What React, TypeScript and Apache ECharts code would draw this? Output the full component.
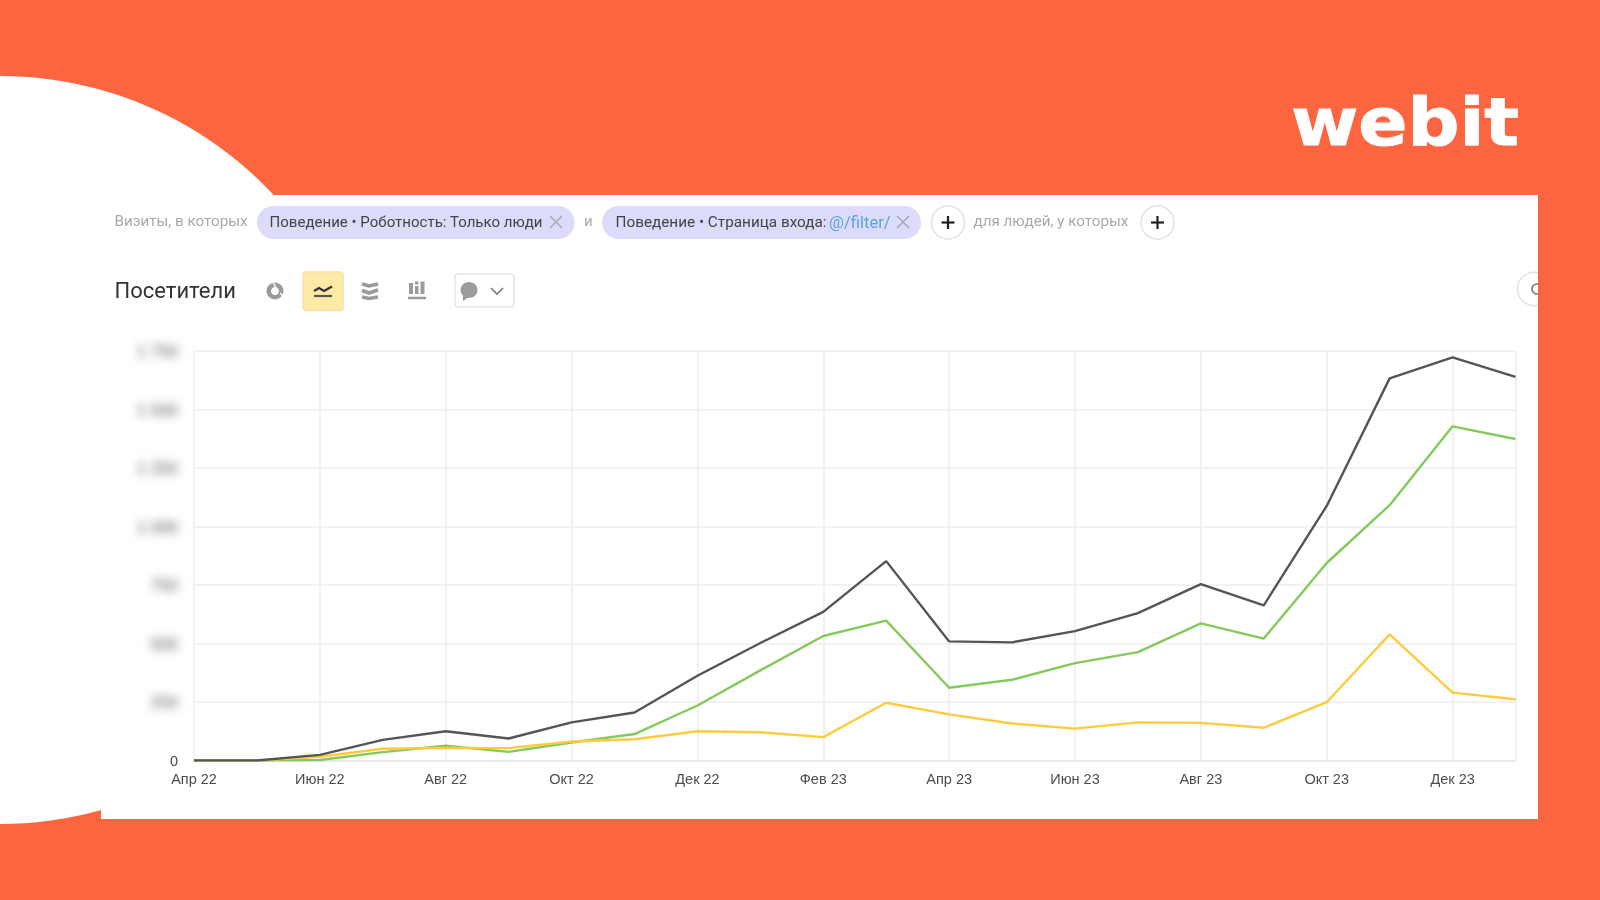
import React, { useEffect, useRef } from "react";
import * as echarts from "echarts";

const months = ["Апр 22","Май 22","Июн 22","Июл 22","Авг 22","Сен 22","Окт 22","Ноя 22","Дек 22","Янв 23","Фев 23","Мар 23","Апр 23","Май 23","Июн 23","Июл 23","Авг 23","Сен 23","Окт 23","Ноя 23","Дек 23","Янв 24"];
const darkValues = [0,0,24,88,125,94,163,205,362,502,635,852,509,505,553,630,754,663,1088,1633,1723,1639];
const greenValues = [0,0,2,36,63,37,77,113,235,385,532,598,311,345,416,463,586,521,844,1091,1428,1374];
const yellowValues = [0,0,16,50,54,53,81,91,125,121,100,247,197,158,136,163,161,140,249,539,290,262];

const ORANGE = "#FD6440";
const UI_FONT = "Roboto";
const GREY = "#a9a9a9";
const ICON = "#9b9b9b";

const txt = (text: string, x: number, y: number, fontSize: number, fill: string, extra: any = {}) => ({
  type: "text", z: 5,
  style: { text, x, y, fontSize, fill, fontFamily: UI_FONT, textVerticalAlign: "middle", ...extra },
});
const ln = (x1: number, y1: number, x2: number, y2: number, stroke: string, lineWidth = 2) => ({
  type: "line", z: 5, shape: { x1, y1, x2, y2 }, style: { stroke, lineWidth },
});
const pl = (points: number[][], stroke: string, lineWidth = 2.5) => ({
  type: "polyline", z: 5, shape: { points }, style: { stroke, lineWidth, fill: "none" },
});
const box = (x: number, y: number, width: number, height: number, fill: string, r = 0, stroke?: string, z = 4) => ({
  type: "rect", z, shape: { x, y, width, height, r }, style: { fill, stroke, lineWidth: stroke ? 1.5 : 0 },
});
const plus = (cx: number, cy: number) => [
  { type: "circle", z: 4, shape: { cx, cy, r: 16.5 }, style: { fill: "#fff", stroke: "#e3e3e3", lineWidth: 1.5 } },
  ln(cx - 6.5, cy, cx + 6.5, cy, "#222", 2.2),
  ln(cx, cy - 6.5, cx, cy + 6.5, "#222", 2.2),
];
const cross = (cx: number, cy: number) => [
  ln(cx - 6, cy - 6, cx + 6, cy + 6, "#a3a3ad", 1.2),
  ln(cx - 6, cy + 6, cx + 6, cy - 6, "#a3a3ad", 1.2),
];

const graphicElements: any[] = [
  { type: "circle", z: -10, shape: { cx: 0, cy: 450, r: 374 }, style: { fill: "#fff" } },
  box(101, 195, 1437, 624, "#fff", 0, undefined, -9),

  txt("Визиты, в которых", 114.5, 221, 15.2, GREY),
  box(257, 206, 317.5, 33, "#DCDBFB", 16.5),
  txt("Поведение • Роботность: Только люди", 269.5, 222, 15.05, "#444"),
  ...cross(556, 222),
  txt("и", 584, 221, 15, GREY),
  box(602, 206, 319, 33, "#DCDBFB", 16.5),
  txt("Поведение • Страница входа:", 615.5, 222, 15.3, "#444"),
  txt("@/filter/", 829, 222, 16.6, "#5AA6DC"),
  ...cross(903, 222),
  ...plus(948, 222.5),
  txt("для людей, у которых", 973.5, 221, 15.2, GREY),
  ...plus(1157.5, 222.5),

  txt("Посетители", 114.5, 290, 22, "#333"),

  { type: "ring", z: 5, shape: { cx: 275, cy: 291, r: 8.5, r0: 4 }, style: { fill: ICON } },
  ln(273, 282, 276, 288, "#fff", 1.4),
  ln(280, 293, 283, 296, "#fff", 1.4),
  box(303, 272, 40, 38.5, "#FFE9A6", 3, "#F3E2AE"),
  pl([[314, 291], [319, 288], [324, 291], [332, 286.5]], "#333", 2.2),
  ln(314, 296, 332, 296, "#555", 2.2),
  pl([[362, 284], [369, 286], [378, 284]], ICON, 3.6),
  pl([[362, 290.5], [369, 293], [378, 290]], ICON, 3.6),
  pl([[362, 297], [369, 298.5], [378, 297]], ICON, 3.6),
  box(409, 283, 4, 11, ICON, 0, undefined, 5),
  box(415, 286, 3.5, 8, ICON, 0, undefined, 5),
  box(415, 281.5, 3.5, 3, ICON, 0, undefined, 5),
  box(420.5, 281.5, 4, 12.5, ICON, 0, undefined, 5),
  ln(408, 298, 426, 298, ICON, 2.5),

  box(455, 274, 59, 33, "#fff", 3, "#e6e6e6"),
  { type: "ellipse", z: 5, shape: { cx: 469, cy: 290, rx: 8.5, ry: 8 }, style: { fill: ICON } },
  { type: "polygon", z: 5, shape: { points: [[463, 294], [469, 297], [463, 301]] }, style: { fill: ICON } },
  pl([[491, 288], [497, 294], [503, 288]], "#777", 1.6),

  { type: "circle", z: 4, shape: { cx: 1534, cy: 289, r: 16.5 }, style: { fill: "#fff", stroke: "#e3e3e3", lineWidth: 1.5 } },
  { type: "circle", z: 5, shape: { cx: 1537, cy: 289, r: 5 }, style: { fill: "none", stroke: "#778", lineWidth: 1.6 } },
  box(1538, 195, 62, 624, ORANGE, 0, undefined, 6),

  {
    type: "text", z: 7, x: 1519, y: 155, scaleX: 1.1,
    style: { text: "webit", x: 0, y: 0, fontSize: 66, fontWeight: 700, fontFamily: "DejaVu Sans", fill: "#fff", stroke: "#fff", lineWidth: 1, textAlign: "right", textVerticalAlign: "bottom" },
  },
];

export default function App() {
  const ref = useRef<HTMLDivElement>(null);
  useEffect(() => {
    const el = ref.current!;
    const chart = echarts.init(el, undefined, { renderer: "svg" });
    chart.setOption({
      animation: false,
      backgroundColor: ORANGE,
      grid: { left: 194, right: 84.5, top: 351, bottom: 139.5, containLabel: false },
      xAxis: {
        type: "category",
        data: months,
        boundaryGap: false,
        axisLine: { show: true, lineStyle: { color: "#e6e6e6", width: 1.5 } },
        axisTick: { show: false },
        axisLabel: {
          interval: (i: number) => i % 2 === 0,
          color: "#4d4d4d",
          fontSize: 14.5,
          fontFamily: "Liberation Sans",
          margin: 11,
        },
        splitLine: {
          show: true,
          interval: (i: number) => i % 2 === 0 || i === months.length - 1,
          lineStyle: { color: "#ececec", width: 1.5 },
        },
      },
      yAxis: {
        type: "value",
        min: 0,
        max: 1750,
        interval: 250,
        axisLine: { show: false },
        axisTick: { show: false },
        axisLabel: {
          fontFamily: "Liberation Sans",
          margin: 16,
          formatter: (v: number) =>
            v === 0
              ? "{z|0}"
              : `{b|${v >= 1000 ? `${Math.floor(v / 1000)} ${String(v % 1000).padStart(3, "0")}` : v}}`,
          rich: {
            z: { color: "#4d4d4d", fontSize: 14.5, fontFamily: "Liberation Sans" },
            b: { color: "#555555", fontSize: 16.5, fontFamily: "Liberation Sans" },
          },
        },
        splitLine: { show: true, lineStyle: { color: "#eeeeee", width: 1.5 } },
      },
      graphic: { elements: graphicElements },
      series: [
        { name: "green", type: "line", data: greenValues, symbol: "none", silent: true, lineStyle: { color: "#84C95C", width: 2.4 } },
        { name: "yellow", type: "line", data: yellowValues, symbol: "none", silent: true, lineStyle: { color: "#FFCB3E", width: 2.4 } },
        { name: "dark", type: "line", data: darkValues, symbol: "none", silent: true, lineStyle: { color: "#555555", width: 2.4 } },
      ],
    });
    const blurred = new Set(["250", "500", "750", "1 000", "1 250", "1 500", "1 750"]);
    el.querySelectorAll("text").forEach((t) => {
      if (blurred.has((t.textContent || "").trim())) (t as any).style.filter = "blur(5px)";
    });
    return () => chart.dispose();
  }, []);
  return (
    <div
      ref={ref}
      style={{ position: "fixed", left: 0, top: 0, width: 1600, height: 900, filter: "blur(0.5px)" }}
    />
  );
}
